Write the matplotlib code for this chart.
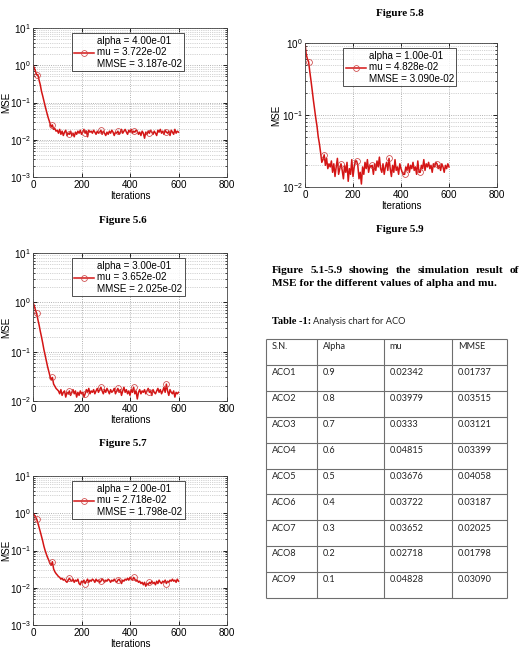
import numpy as np
import matplotlib
matplotlib.use("Agg")
import matplotlib.pyplot as plt

plt.rcParams['font.family'] = ['Liberation Sans', 'DejaVu Sans']
plt.rcParams['mathtext.fontset'] = 'custom'
plt.rcParams['mathtext.rm'] = 'Liberation Sans'
plt.rcParams['mathtext.it'] = 'Liberation Sans'

# ---- data (x every 5 iterations, 0..600) ----
iters = np.arange(0, 601, 5)

mse_a04 = [1.0, 0.85, 0.7, 0.55, 0.56, 0.4, 0.3, 0.2, 0.15, 0.11, 0.08, 0.06, 0.045, 0.035, 0.028, 0.022, 0.025, 0.019, 0.02, 0.017, 0.018,
           0.015, 0.019, 0.014, 0.017, 0.013, 0.016, 0.018, 0.013, 0.015, 0.014,
           0.017, 0.013, 0.015, 0.012, 0.016, 0.014, 0.017, 0.015, 0.018, 0.014,
           0.016, 0.019, 0.015, 0.017, 0.012, 0.018, 0.016, 0.017, 0.015, 0.018,
           0.016, 0.014, 0.017, 0.015, 0.016, 0.018, 0.014, 0.017, 0.015, 0.013,
           0.016, 0.014, 0.017, 0.015, 0.018, 0.016, 0.013, 0.016, 0.015, 0.017,
           0.014, 0.016, 0.019, 0.015, 0.017, 0.019, 0.016, 0.014, 0.018, 0.016,
           0.019, 0.015, 0.017, 0.016, 0.018, 0.017, 0.014, 0.016, 0.013, 0.017,
           0.015, 0.011, 0.016, 0.014, 0.017, 0.015, 0.018, 0.016, 0.014, 0.017,
           0.015, 0.013, 0.018, 0.016, 0.019, 0.015, 0.017, 0.014, 0.018, 0.016,
           0.015, 0.017, 0.013, 0.018, 0.016, 0.014, 0.019, 0.015, 0.017, 0.016]

mse_a03 = [1.0, 0.85, 0.7, 0.6, 0.45, 0.35, 0.26, 0.2, 0.15, 0.11, 0.085, 0.065, 0.05, 0.04, 0.032, 0.027, 0.03, 0.022, 0.02, 0.018, 0.017,
           0.016, 0.014, 0.017, 0.013, 0.015, 0.016, 0.012, 0.015, 0.014, 0.016,
           0.013, 0.015, 0.017, 0.014, 0.016, 0.012, 0.015, 0.013, 0.016, 0.014,
           0.015, 0.012, 0.014, 0.017, 0.015, 0.018, 0.014, 0.016, 0.015, 0.017,
           0.014, 0.016, 0.018, 0.015, 0.017, 0.019, 0.016, 0.014, 0.017, 0.015,
           0.018, 0.016, 0.014, 0.017, 0.015, 0.016, 0.018, 0.014, 0.016, 0.018,
           0.015, 0.017, 0.013, 0.016, 0.019, 0.015, 0.017, 0.014, 0.016, 0.013,
           0.017, 0.015, 0.019, 0.014, 0.016, 0.011, 0.015, 0.017, 0.014, 0.016,
           0.015, 0.017, 0.014, 0.016, 0.018, 0.015, 0.016, 0.013, 0.017, 0.015,
           0.014, 0.016, 0.018, 0.015, 0.017, 0.014, 0.016, 0.019, 0.015, 0.022,
           0.016, 0.013, 0.017, 0.015, 0.014, 0.016, 0.012, 0.015, 0.014, 0.015]

mse_a02 = [1.0, 0.9, 0.8, 0.7, 0.55, 0.42, 0.32, 0.24, 0.18, 0.13, 0.1, 0.08, 0.065, 0.055, 0.045, 0.04, 0.05, 0.032, 0.027, 0.024, 0.022,
           0.020, 0.019, 0.017, 0.018, 0.016, 0.017, 0.015, 0.014, 0.016, 0.018,
           0.016, 0.015, 0.017, 0.014, 0.016, 0.015, 0.017, 0.013, 0.012, 0.015,
           0.014, 0.016, 0.013, 0.015, 0.017, 0.014, 0.016, 0.015, 0.017, 0.016,
           0.014, 0.017, 0.015, 0.016, 0.014, 0.015, 0.017, 0.016, 0.014, 0.016,
           0.015, 0.017, 0.016, 0.014, 0.016, 0.015, 0.017, 0.015, 0.014, 0.016,
           0.017, 0.015, 0.013, 0.016, 0.015, 0.017, 0.016, 0.018, 0.016, 0.019,
           0.017, 0.016, 0.019, 0.017, 0.015, 0.016, 0.014, 0.015, 0.013, 0.014,
           0.012, 0.014, 0.011, 0.013, 0.012, 0.014, 0.013, 0.015, 0.013, 0.014,
           0.012, 0.015, 0.013, 0.016, 0.014, 0.013, 0.015, 0.014, 0.016, 0.013,
           0.015, 0.014, 0.016, 0.015, 0.017, 0.015, 0.016, 0.014, 0.017, 0.015]

mse_a01 = [1.0, 0.7, 0.6, 0.55, 0.4, 0.3, 0.22, 0.16, 0.12, 0.09, 0.07, 0.05, 0.04, 0.03, 0.022, 0.024, 0.028, 0.02, 0.025, 0.018, 0.021,
           0.019, 0.023, 0.016, 0.021, 0.014, 0.019, 0.025, 0.015, 0.018, 0.021,
           0.017, 0.013, 0.020, 0.016, 0.022, 0.012, 0.018, 0.015, 0.024, 0.014,
           0.019, 0.023, 0.023, 0.020, 0.013, 0.016, 0.011, 0.019, 0.015, 0.022,
           0.018, 0.024, 0.016, 0.020, 0.019, 0.020, 0.015, 0.021, 0.017, 0.023,
           0.019, 0.026, 0.018, 0.016, 0.021, 0.015, 0.019, 0.022, 0.017, 0.025,
           0.018, 0.014, 0.020, 0.016, 0.024, 0.017, 0.019, 0.015, 0.021, 0.018,
           0.016, 0.015, 0.015, 0.019, 0.017, 0.021, 0.016, 0.020, 0.018, 0.022,
           0.017, 0.019, 0.015, 0.023, 0.016, 0.016, 0.020, 0.018, 0.024, 0.017,
           0.021, 0.019, 0.022, 0.018, 0.020, 0.016, 0.021, 0.019, 0.022, 0.021,
           0.018, 0.020, 0.017, 0.021, 0.019, 0.016, 0.020, 0.018, 0.021, 0.019]

marker_idx = [3, 16, 30, 43, 56, 70, 83, 96, 110]

legend_a04 = "alpha = 4.00e-01\nmu = 3.722e-02\nMMSE = 3.187e-02"
legend_a03 = "alpha = 3.00e-01\nmu = 3.652e-02\nMMSE = 2.025e-02"
legend_a02 = "alpha = 2.00e-01\nmu = 2.718e-02\nMMSE = 1.798e-02"
legend_a01 = "alpha = 1.00e-01\nmu = 4.828e-02\nMMSE = 3.090e-02"

# table
tbl_header = ["S.N.", "Alpha", "mu", "MMSE"]
tbl_sn = ["ACO1", "ACO2", "ACO3", "ACO4", "ACO5", "ACO6", "ACO7", "ACO8", "ACO9"]
tbl_alpha = ["0.9", "0.8", "0.7", "0.6", "0.5", "0.4", "0.3", "0.2", "0.1"]
tbl_mu = ["0.02342", "0.03979", "0.0333", "0.04815", "0.03676", "0.03722", "0.03652", "0.02718", "0.04828"]
tbl_mmse = ["0.01737", "0.03515", "0.03121", "0.03399", "0.04058", "0.03187", "0.02025", "0.01798", "0.03090"]

W, H = 521, 670
fig = plt.figure(figsize=(W / 100, H / 100), dpi=100)

FS = 7.1


def px_axes(l, t, r, b):
    return fig.add_axes([l / W, 1 - b / H, (r - l) / W, (b - t) / H])


def mse_plot(ax, y, label, ylim, ylab_px):
    ax.semilogy(iters, y, color='#d41515', lw=1.1, marker='o', ms=4.2, mfc='none',
                mec='#cc4444', mew=0.55, markevery=marker_idx, label=label)
    ax.set_xlim(0, 800)
    ax.set_ylim(*ylim)
    ax.set_xticks([0, 200, 400, 600, 800])
    ax.grid(True, which='major', ls=':', color='#999999', lw=0.6)
    ax.grid(True, which='minor', axis='y', ls=':', color='#aaaaaa', lw=0.5)
    ax.tick_params(which='both', direction='in', top=True, right=True, labelsize=FS, pad=2)
    ax.tick_params(which='major', length=3, width=0.6)
    ax.tick_params(which='minor', length=1.5, width=0.5)
    for s in ax.spines.values():
        s.set_linewidth(0.6)
        s.set_color('#444444')
    ax.set_xlabel("Iterations", fontsize=FS, labelpad=1)
    ax.set_ylabel("MSE", fontsize=FS)
    # place the y label a fixed number of pixels left of the axis
    w_px = ax.get_position().width * W
    ax.yaxis.set_label_coords(-ylab_px / w_px, 0.5)
    leg = ax.legend(loc='upper left', bbox_to_anchor=(0.2, 0.965), fontsize=FS, frameon=True,
                    fancybox=False, edgecolor='black', handlelength=2.0, handletextpad=0.3,
                    borderpad=0.25, borderaxespad=0)
    leg.get_frame().set_linewidth(0.6)


ax1 = px_axes(33, 28, 227, 177)
mse_plot(ax1, mse_a04, legend_a04, (1e-3, 1e1), 22)
ax2 = px_axes(33, 253, 227, 401)
mse_plot(ax2, mse_a03, legend_a03, (1e-2, 1e1), 22)
ax3 = px_axes(33, 476, 227, 625)
mse_plot(ax3, mse_a02, legend_a02, (1e-3, 1e1), 22)
ax4 = px_axes(305, 43, 497, 187)
mse_plot(ax4, mse_a01, legend_a01, (1e-2, 1e0), 24)

cap = dict(family='Liberation Serif', weight='bold', fontsize=8, ha='center', va='center')
fig.text(123 / W, 1 - 220 / H, "Figure 5.6", **cap)
fig.text(123 / W, 1 - 443 / H, "Figure 5.7", **cap)
fig.text(400 / W, 1 - 14 / H, "Figure 5.8", **cap)
fig.text(400 / W, 1 - 230 / H, "Figure 5.9", **cap)

# justified paragraph
renderer = fig.canvas.get_renderer()
para = dict(family='Liberation Serif', weight='bold', fontsize=8.2, va='center')
words = "Figure 5.1-5.9 showing the simulation result of".split()
x0, x1 = 272, 519
arts = [fig.text(0, 1 - 270 / H, w, **para) for w in words]
widths = [a.get_window_extent(renderer).width for a in arts]
gap = (x1 - x0 - sum(widths)) / (len(words) - 1)
xx = x0
for a, w in zip(arts, widths):
    a.set_x(xx / W)
    xx += w + gap
fig.text(x0 / W, 1 - 283 / H, "MSE for the different values of alpha and mu.", **para)

t1 = fig.text(272 / W, 1 - 321 / H, "Table -1:", family='Liberation Serif', weight='bold',
              fontsize=7.5, va='center')
fig.canvas.draw()
bb = t1.get_window_extent(renderer)
fig.text((bb.x1 + 2) / W, 1 - 321 / H, "Analysis chart for ACO", family='Lato',
         fontsize=6.7, va='center', color='#222222')

# table
tax = px_axes(266, 339, 507, 598)
tax.set_xlim(0, 1)
tax.set_ylim(10, 0)
tax.axis('off')
col_edges = [0, 0.212, 0.49, 0.772, 1.0]
nrows = len(tbl_sn) + 1
tax.hlines(np.arange(nrows + 1), 0, 1, color='#6e6e6e', lw=0.8, clip_on=False)
tax.vlines(col_edges, 0, nrows, color='#6e6e6e', lw=0.8, clip_on=False)
rows = [tbl_header] + [list(r) for r in zip(tbl_sn, tbl_alpha, tbl_mu, tbl_mmse)]
for i, row in enumerate(rows):
    for j, val in enumerate(row):
        tax.text(col_edges[j] + 0.024, i + 0.3, val, family='Lato', fontsize=6.6,
                 va='center', ha='left', color='#222222')

fig.savefig("out.png", dpi=100)
